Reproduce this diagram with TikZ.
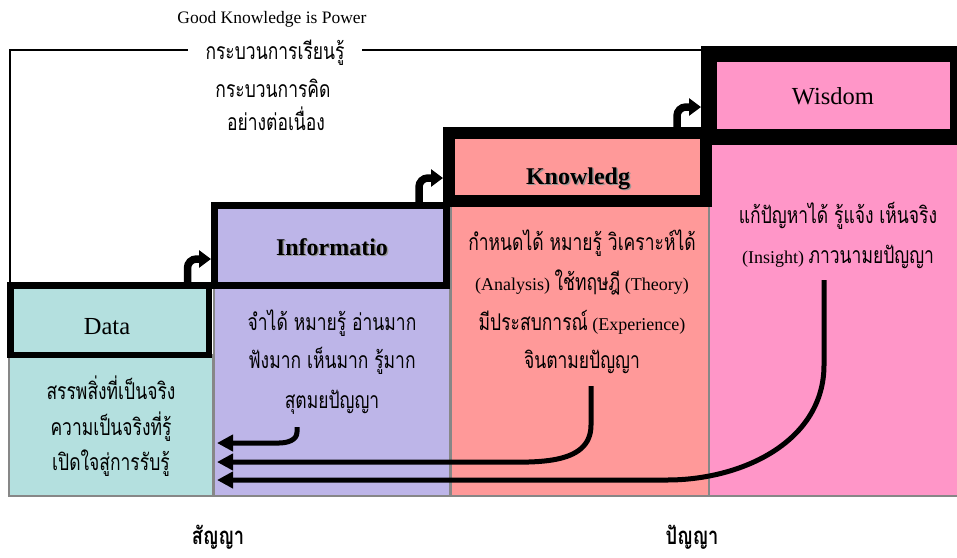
\documentclass[tikz,border=0pt]{standalone}
\usepackage{fontspec}
\setmainfont{Liberation Serif}
\newfontfamily\thaifont[Script=Thai,FakeStretch=0.76]{Loma}
\usetikzlibrary{arrows.meta}

\definecolor{dataC}{RGB}{180,224,223}
\definecolor{infoC}{RGB}{189,181,232}
\definecolor{knowC}{RGB}{255,153,153}
\definecolor{wisC}{RGB}{255,150,200}
\definecolor{edgeC}{RGB}{135,135,135}
\definecolor{shadowC}{RGB}{150,150,150}

\newcommand\thx[1]{{\thaifont #1}}
\newcommand\thaisize{\fontsize{23}{27}\selectfont\thaifont}

\begin{document}
\begin{tikzpicture}[x=1pt,y=-1pt,
  col/.style={draw=edgeC,line width=2pt,inner sep=0pt},
  hdr/.style={draw=black,inner sep=0pt},
  curl/.style={line width=7.5pt,rounded corners=9pt,-{Triangle[length=12pt,width=17pt]}},
  ret/.style={line width=5pt,-{Triangle[length=16pt,width=16pt]}},
  topline/.style={line width=2pt},
  thtext/.style={font=\thaisize,inner sep=0pt,anchor=base},
  mixtext/.style={font=\fontsize{18}{22}\selectfont,inner sep=0pt,anchor=base},
  hdrtext/.style={font=\fontsize{24.5}{28}\selectfont,inner sep=0pt,anchor=base},
  boldhdr/.style={font=\fontsize{24}{28}\selectfont\bfseries,inner sep=0pt,anchor=base},
  bottomtext/.style={font=\fontsize{24}{28}\selectfont\thaifont\bfseries,inner sep=0pt,anchor=base}]
\useasboundingbox (0,0) rectangle (957,557);
\clip (0,0) rectangle (957,557);

% columns
\node[col,fill=dataC,minimum width=204pt,minimum height=141pt] (datacol) at (111,425.5) {};
\node[col,fill=infoC,minimum width=236pt,minimum height=211pt] (infocol) at (332,390.5) {};
\node[col,fill=knowC,minimum width=258pt,minimum height=291pt] (knowcol) at (580,350.5) {};
\node[col,fill=wisC,minimum width=257pt,minimum height=356pt] (wiscol) at (837.5,318) {};

% headers
\node[hdr,fill=dataC,line width=6.5pt,minimum width=198.5pt,minimum height=69.5pt] (datahdr) at (109.5,320) {};
\node[hdr,fill=infoC,line width=7pt,minimum width=232pt,minimum height=80pt] (infohdr) at (330.5,245.5) {};
\node[hdr,fill=knowC,line width=12pt,minimum width=257pt,minimum height=68pt] (knowhdr) at (577.5,167) {};
\node[hdr,fill=wisC,line width=16pt,minimum width=249pt,minimum height=83pt] (wishdr) at (833.5,95.5) {};

\node[hdrtext] (dataT) at (107,334) {Data};
\node[boldhdr,text=shadowC] (infoS) at (333.5,256.5) {Informatio};
\node[boldhdr] (infoT) at (332,255) {Informatio};
\node[boldhdr,text=shadowC] (knowS) at (579.5,185.5) {Knowledg};
\node[boldhdr] (knowT) at (578,184) {Knowledg};
\node[hdrtext] (wisT) at (833,104) {Wisdom};

% heading texts
\node[font=\fontsize{17.5}{20}\selectfont,inner sep=0pt,anchor=base] (motto) at (272,23) {Good Knowledge is Power};
\node[font=\thaisize,inner xsep=18pt,inner ysep=0pt,anchor=base,outer sep=0pt] (learn) at (275,59) {กระบวนการเรียนรู้};
\node[thtext] (think) at (273,97) {กระบวนการคิด};
\node[thtext] (cont) at (276,130) {อย่างต่อเนื่อง};

% connector around the top
\draw[topline] ([xshift=3pt]datahdr.north west) |- (learn.west |- 0,50);
\draw[topline] (learn.east |- 0,50) -- (wishdr.west |- 0,50);

% column texts
\node[thtext] (d1) at (111,399) {สรรพสิ่งที่เป็นจริง};
\node[thtext] (d2) at (111,435) {ความเป็นจริงที่รู้};
\node[thtext] (d3) at (111,470) {เปิดใจสู่การรับรู้};

\node[thtext] (i1) at (332,330) {จำได้ หมายรู้ อ่านมาก};
\node[thtext] (i2) at (332,368) {ฟังมาก เห็นมาก รู้มาก};
\node[thtext] (i3) at (332,408) {สุตมยปัญญา};

\node[thtext] (k1) at (582,250) {กำหนดได้ หมายรู้ วิเคราะห์ได้};
\node[mixtext] (k2) at (582,290) {(Analysis) \thx{\fontsize{23}{27}\selectfont ใช้ทฤษฎี} (Theory)};
\node[mixtext] (k3) at (582,330) {\thx{\fontsize{23}{27}\selectfont มีประสบการณ์} (Experience)};
\node[thtext] (k4) at (582,368) {จินตามยปัญญา};

\node[thtext] (w1) at (838,223) {แก้ปัญหาได้ รู้แจ้ง เห็นจริง};
\node[mixtext] (w2) at (838,263) {(Insight) \thx{\fontsize{23}{27}\selectfont ภาวนามยปัญญา}};

\node[bottomtext] (sanya) at (218,544) {สัญญา};
\node[bottomtext] (panya) at (692,544) {ปัญญา};

% step-up arrows
\draw[curl] ([xshift=-24.5pt]datahdr.north east) |- ([yshift=-13.5pt]infohdr.west);
\draw[curl] ([xshift=-31pt]infohdr.north east) |- ([yshift=-11pt]knowhdr.west);
\draw[curl] ([xshift=-35pt]knowhdr.north east) |- ([yshift=-11.5pt]wishdr.west);

% return arrows
\coordinate (r1) at (297,427);
\coordinate (r2) at (591,386);
\coordinate (r3) at (824,280);
\draw[ret] (r1) -- (297,432) to[out=-90,in=0] (279,443) -- ([shift={(3,17.5)}]datacol.east);
\draw[ret] (r2) -- (591,425) to[out=-90,in=0] (490,462) -- ([shift={(3,36.5)}]datacol.east);
\draw[ret] (r3) -- (824,365) to[out=-90,in=0] (667,480) -- ([shift={(3,54.5)}]datacol.east);
\end{tikzpicture}
\end{document}
